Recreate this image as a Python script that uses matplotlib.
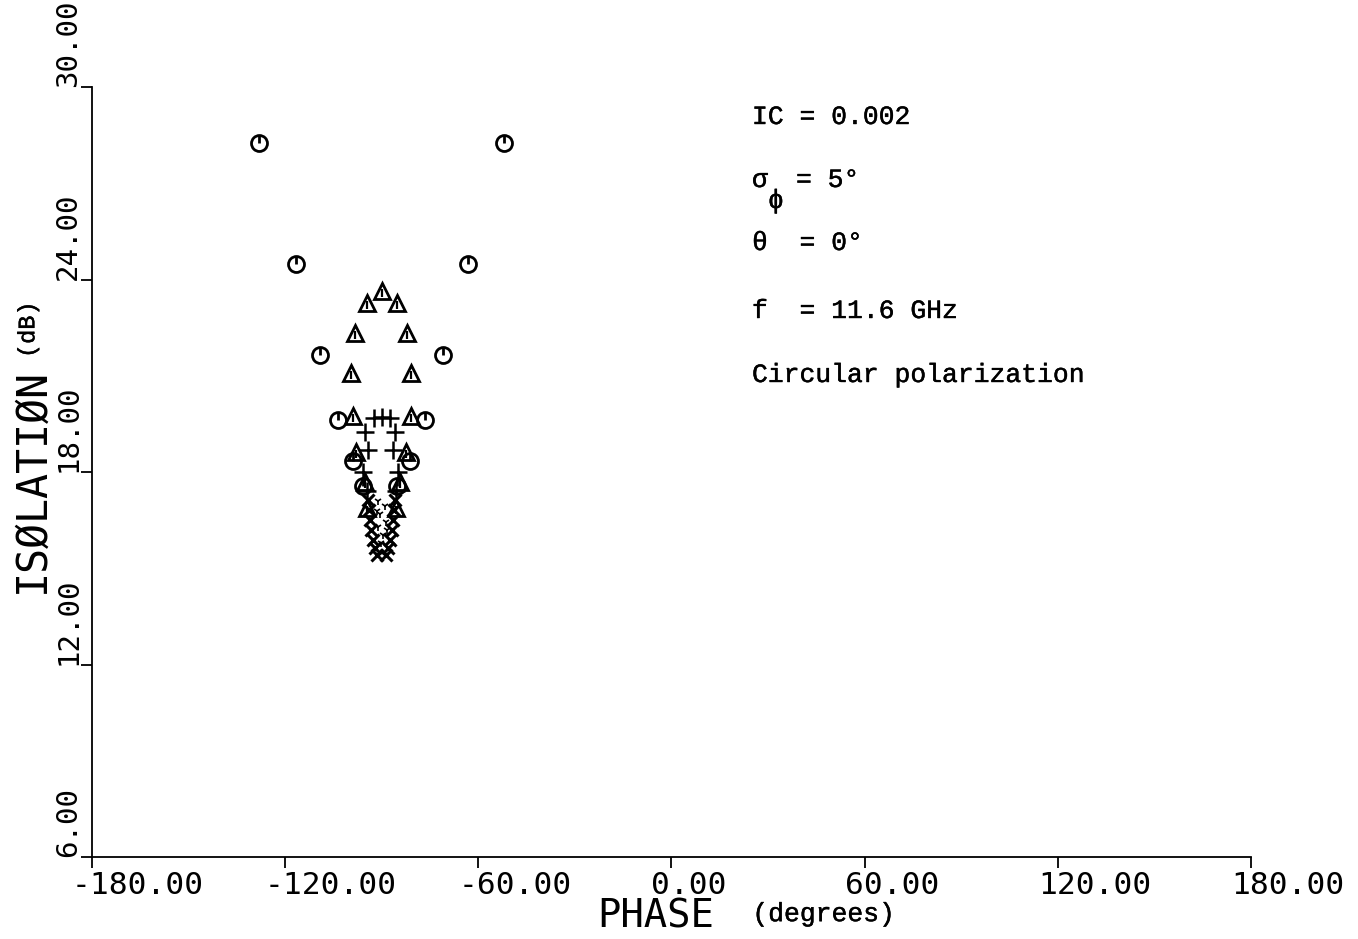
import numpy as np
import matplotlib.pyplot as plt
import matplotlib.patheffects as pe
from matplotlib.transforms import ScaledTranslation

# isolation vs. phase error, one marker type per amplitude setting
circ_phase = [-128.1, -51.9, -116.6, -63.1, -109.1, -70.9, -103.5, -76.5,
              -98.8, -81.3, -95.8, -85.2]
circ_iso = [28.25, 28.25, 24.48, 24.48, 21.65, 21.65, 19.62, 19.62,
            18.34, 18.34, 17.56, 17.56]

tri_phase = [-89.9, -94.5, -85.2, -98.2, -82.1, -99.5, -80.8, -98.9, -80.8,
             -97.9, -82.4, -95.1, -84.3, -94.6, -85.5]
tri_iso = [23.64, 23.27, 23.27, 22.33, 22.33, 21.08, 21.08, 19.75, 19.75,
           18.62, 18.62, 17.69, 17.69, 16.88, 16.88]

plus_phase = [-92.3, -89.9, -87.3, -95.1, -85.8, -94.2, -86.4, -95.8, -84.9,
              -94.6, -85.6]
plus_iso = [19.68, 19.72, 19.68, 19.25, 19.25, 18.68, 18.68, 18.00, 18.00,
            17.40, 17.40]

x_phase = [-94.2, -85.8, -93.9, -86.1, -93.6, -86.4, -93.3, -86.7, -92.7,
           -87.3, -92.0, -88.0, -91.4, -88.6]
x_iso = [17.13, 17.13, 16.81, 16.81, 16.50, 16.50, 16.19, 16.19, 15.88,
         15.88, 15.63, 15.63, 15.41, 15.41]

dot_phase = [-91.2, -89.0, -90.4, -88.6, -91.0, -89.6, -90.2, -91.6, -88.4]
dot_iso = [17.10, 16.95, 16.70, 16.45, 16.30, 16.05, 15.80, 16.80, 16.20]

xticks = [-180, -120, -60, 0, 60, 120, 180]
yticks = [6, 12, 18, 24, 30]

plot_font = "DejaVu Sans Mono"
type_font = "Liberation Mono"
ink = [pe.withStroke(linewidth=0.3, foreground="black")]

fig = plt.figure(figsize=(13.58, 9.39), dpi=100)
ax = fig.add_axes([0.0677, 0.0873, 0.8535, 0.8200])
ax.set_xlim(-180, 180)
ax.set_ylim(6, 30)

for side in ["top", "right"]:
    ax.spines[side].set_visible(False)
for side in ["left", "bottom"]:
    ax.spines[side].set_linewidth(1.3)

tick_tri = [(0, -0.9), (0, 0.35)]

ax.plot(circ_phase, circ_iso, "o", ms=11.5, mfc="none", mec="black", mew=2.0)
ax.plot(circ_phase, circ_iso, marker=[(0, 0), (0, 1)], ls="none", ms=11.5,
        mec="black", mew=2.0)

ax.plot(tri_phase, tri_iso, "^", ms=11, mfc="none", mec="black", mew=2.0)
ax.plot(tri_phase, tri_iso, marker=tick_tri, ls="none", ms=9,
        mec="black", mew=1.6)

ax.plot(plus_phase, plus_iso, "+", ms=13, mec="black", mew=1.8)
ax.plot(x_phase, x_iso, "x", ms=8, mec="black", mew=2.2)
ax.plot(dot_phase, dot_iso, "1", ms=6, mec="black", mew=1.2)

# x tick labels start a little left of their tick, plotter style
ax.set_xticks(xticks)
ax.set_xticklabels([])
shift = ScaledTranslation(-20 / 100, -14 / 100, fig.dpi_scale_trans)
xlab_tf = ax.get_xaxis_transform() + shift
for v in xticks:
    ax.text(v, 0, f"{v:.2f}", transform=xlab_tf, fontfamily=plot_font,
            fontsize=22.5, ha="left", va="top", clip_on=False)

ax.set_yticks(yticks)
ax.set_yticklabels([f"{v:.2f}" for v in yticks], fontfamily=plot_font,
                   fontsize=21, rotation=90, va="bottom", ha="center")
ax.tick_params(axis="both", direction="out", length=8, width=1.3)
ax.tick_params(axis="y", pad=9)

# axis titles: plotter lettering + typed units
fig.text(0.440, 0.012, "PHASE", fontfamily=plot_font, fontsize=28)
fig.text(0.554, 0.019, "(degrees)", fontfamily=type_font, fontsize=19,
         path_effects=ink)
fig.text(0.008, 0.378, "ISØLATIØN", fontfamily=plot_font, fontsize=30,
         rotation=90)
fig.text(0.012, 0.624, "(dB)", fontfamily=type_font, fontsize=17,
         rotation=90, path_effects=ink)

# run parameters
px = 752 / 1358
def fy(py):
    return 1 - py / 939

ann = dict(fontfamily=type_font, fontsize=19, va="center", ha="left",
           path_effects=ink)
fig.text(px, fy(117), "IC = 0.002", **ann)
fig.text(px, fy(180), "σ", **ann)
fig.text(px + 16 / 1358, fy(201), "ϕ", **ann)
fig.text(796 / 1358, fy(180), "= 5°", **ann)
fig.text(px, fy(243), "θ  = 0°", **ann)
fig.text(px, fy(311), "f  = 11.6 GHz", **ann)
fig.text(px, fy(375), "Circular polarization", **ann)

fig.savefig("out.png", dpi=100, facecolor="white")
